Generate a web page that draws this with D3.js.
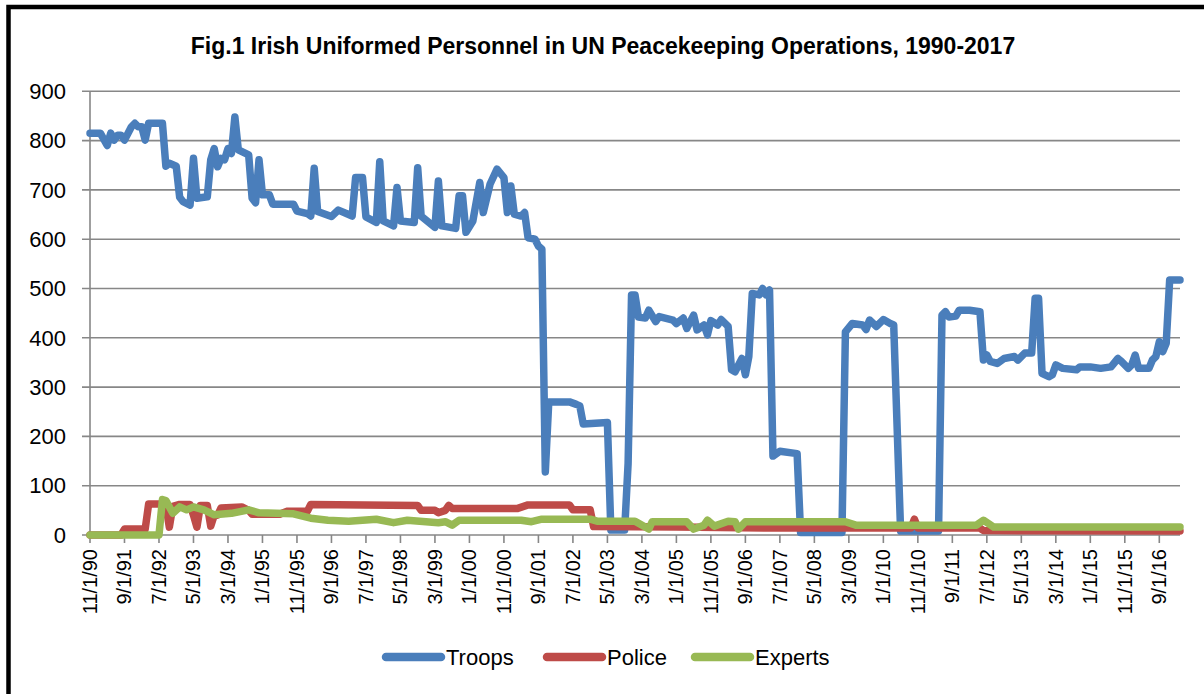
<html>
<head>
<meta charset="utf-8">
<title>Irish Uniformed Personnel</title>
<script src="https://cdn.jsdelivr.net/npm/d3@7"></script>
<style>
  body { margin:0; background:#fff; }
  text { font-family: "Liberation Sans", Arial, sans-serif; fill:#000; }
  .grid line { stroke:#878787; stroke-width:1.6px; }
  .series { fill:none; stroke-width:7.5px; stroke-linejoin:round; stroke-linecap:round; }
</style>
</head>
<body>
<div id="chart"></div>
<script>
// month index counted from 11/1/90, value
var tickLabels = ["11/1/90","9/1/91","7/1/92","5/1/93","3/1/94","1/1/95","11/1/95","9/1/96",
  "7/1/97","5/1/98","3/1/99","1/1/00","11/1/00","9/1/01","7/1/02","5/1/03","3/1/04","1/1/05",
  "11/1/05","9/1/06","7/1/07","5/1/08","3/1/09","1/1/10","11/1/10","9/1/11","7/1/12","5/1/13",
  "3/1/14","1/1/15","11/1/15","9/1/16"];
var yTicks = [0,100,200,300,400,500,600,700,800,900];
var seriesNames = ["Troops","Police","Experts"];
var colors = ["#4a7ebb","#be4b48","#98b954"];

var troops = [[0,815],[3,815],[5,790],[6,815],[7,801],[8,811],[9,811],[10,801],[12,828],[13,835],
  [14,828],[15,828],[16,801],[17,835],[21,835],[22,748],[23,754],[25,748],[26,685],[27,676],[29,669],
  [30,764],[31,683],[34,686],[35,761],[36,784],[37,747],[38,764],[39,761],[40,784],[41,774],[42,848],
  [43,781],[46,771],[47,683],[48,674],[49,761],[50,690],[52,690],[53,671],[59,671],[60,657],[63,652],
  [64,647],[65,744],[66,656],[70,646],[72,659],[76,647],[77,725],[79,725],[80,645],[83,634],[84,757],
  [85,637],[88,627],[89,705],[90,637],[94,634],[95,745],[96,647],[100,624],[101,718],[102,627],
  [106,622],[107,688],[108,688],[109,614],[111,637],[113,715],[114,654],[116,712],[118,742],[120,725],
  [121,654],[122,708],[123,651],[125,647],[126,654],[127,603],[129,600],[130,586],[131,580],[132,128],
  [133,270],[139,270],[141,265],[142,262],[143,225],[150,228],[151,10],[155,10],[156,145],[157,487],
  [158,487],[159,442],[161,440],[162,456],[164,433],[165,443],[169,436],[170,429],[172,440],[173,419],
  [175,446],[176,416],[178,426],[179,406],[180,435],[182,426],[183,437],[185,423],[186,335],[187,331],
  [189,358],[190,325],[191,362],[192,490],[194,487],[195,500],[196,487],[197,497],[198,160],[200,170],
  [205,165],[206,5],[218,5],[219,412],[221,429],[224,426],[225,417],[226,436],[228,423],[230,437],
  [232,429],[233,426],[235,8],[246,8],[247,446],[248,453],[249,442],[251,444],[252,456],[255,456],
  [257,454],[258,453],[259,355],[260,365],[261,352],[263,348],[265,358],[268,362],[269,355],[271,369],
  [273,369],[274,480],[275,480],[276,328],[278,321],[279,325],[280,345],[282,338],[286,335],[287,341],
  [290,341],[293,338],[296,341],[298,358],[299,352],[301,338],[302,345],[303,365],[304,338],[307,338],
  [308,355],[309,362],[310,392],[311,372],[312,389],[313,517],[316,517]];

var police = [[0,0],[9,0],[10,12],[16,12],[17,63],[21,63],[22,60],[23,16],[24,58],[26,62],[29,62],
  [30,40],[31,16],[32,60],[34,60],[35,18],[36,40],[37,40],[38,55],[44,57],[46,50],[47,42],[55,42],
  [57,48],[63,48],[64,62],[95,60],[96,50],[100,50],[101,45],[103,50],[104,60],[105,54],[124,54],
  [127,61],[139,61],[140,51],[145,51],[146,17],[170,16],[200,14],[238,14],[239,32],[240,14],[258,14],
  [259,9],[316,8]];

var experts = [[0,0],[20,0],[21,72],[22,70],[24,44],[26,57],[28,51],[30,57],[33,51],[36,41],[41,44],
  [46,51],[49,45],[59,43],[64,34],[69,30],[75,28],[83,32],[88,25],[92,30],[101,25],[103,27],[105,20],
  [107,30],[125,30],[128,27],[131,32],[145,32],[147,28],[158,28],[162,12],[163,27],[173,27],[175,12],
  [178,20],[179,30],[181,18],[185,28],[187,27],[188,12],[190,27],[219,27],[222,20],[257,20],[259,30],
  [262,16],[316,16]];

var width = 1204, height = 694;
var svg = d3.select("#chart").append("svg")
    .attr("width", width).attr("height", height);

// frame (only left and top edges fall inside the picture)
svg.append("rect").attr("x", 8.5).attr("y", 7).attr("width", 1220).attr("height", 720)
    .attr("fill", "#fff").attr("stroke", "#000").attr("stroke-width", 4.5);

var x = d3.scaleLinear().domain([0, 316]).range([90, 1180]);
var y = d3.scaleLinear().domain([0, 900]).range([535, 91.3]);

svg.append("text").attr("x", 603).attr("y", 54)
    .attr("text-anchor", "middle").style("font-size", "23px").style("font-weight", "bold")
    .text("Fig.1 Irish Uniformed Personnel in UN Peacekeeping Operations, 1990-2017");

// horizontal grid + y tick labels
var grid = svg.append("g").attr("class", "grid");
grid.selectAll("line").data(yTicks).enter().append("line")
    .attr("x1", 82).attr("x2", 1180)
    .attr("y1", d => y(d)).attr("y2", d => y(d));
svg.append("g").selectAll("text").data(yTicks).enter().append("text")
    .attr("x", 66).attr("y", d => y(d)).attr("dy", "0.35em")
    .attr("text-anchor", "end").style("font-size", "22px")
    .text(d => d);

// y axis line
svg.append("line").attr("x1", 90).attr("x2", 90).attr("y1", 91.3).attr("y2", 535)
    .attr("stroke", "#878787").attr("stroke-width", 1.6);

// x ticks + rotated labels
var xt = svg.append("g").selectAll("g").data(tickLabels).enter().append("g")
    .attr("transform", (d, i) => "translate(" + x(i * 10) + ",535)");
xt.append("line").attr("y1", 0).attr("y2", 8).attr("stroke", "#878787").attr("stroke-width", 1.6);
xt.append("text").attr("transform", "rotate(-90)")
    .attr("x", -14).attr("dy", "0.35em").attr("text-anchor", "end")
    .style("font-size", "20px").text(d => d);

var line = d3.line().x(d => x(d[0])).y(d => y(d[1]));
var all = [troops, police, experts];
svg.append("g").selectAll("path").data(all).enter().append("path")
    .attr("class", "series")
    .attr("stroke", (d, i) => colors[i])
    .attr("d", line);

// legend
var legX = [386, 547, 695];
var leg = svg.append("g").selectAll("g").data(seriesNames).enter().append("g")
    .attr("transform", (d, i) => "translate(" + legX[i] + ",657)");
leg.append("line").attr("x1", 0).attr("x2", 55)
    .attr("stroke", (d, i) => colors[i]).attr("stroke-width", 8.5).attr("stroke-linecap", "round");
leg.append("text").attr("x", 60).attr("dy", "0.35em").style("font-size", "22px").text(d => d);
</script>
</body>
</html>
